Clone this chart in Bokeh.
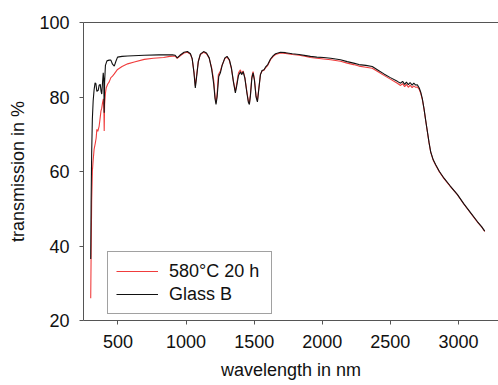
from bokeh.plotting import figure
from bokeh.models import LinearAxis, FixedTicker, Legend, LegendItem, Range1d
from bokeh.embed import file_html
from bokeh.resources import INLINE

# ---- data: Glass B (black) ----
wl_glass = [300, 303, 307, 312, 318, 325, 332, 338, 345, 355, 362, 370, 376, 381, 387, 392, 396, 399, 402, 408,
            419, 435, 448, 460, 473, 485, 497, 530, 571, 693, 800, 900, 920, 935, 955, 985, 1010, 1032, 1045, 1058,
            1068, 1078, 1090, 1105, 1129, 1150, 1170, 1188, 1203, 1213, 1220, 1228, 1240, 1252, 1265, 1285, 1301, 1318, 1333, 1348,
            1362, 1372, 1385, 1399, 1408, 1419, 1432, 1447, 1458, 1465, 1473, 1483, 1492, 1502, 1514, 1524, 1534, 1546, 1558, 1572,
            1583, 1600, 1620, 1640, 1657, 1693, 1730, 1780, 1830, 1880, 1913, 1960, 2010, 2062, 2134, 2183, 2230, 2269, 2320, 2367,
            2410, 2453, 2500, 2551, 2575, 2590, 2605, 2618, 2632, 2645, 2660, 2672, 2686, 2698, 2712, 2723, 2735, 2747, 2760, 2772,
            2784, 2796, 2814, 2833, 2860, 2894, 2940, 2993, 3040, 3090, 3140, 3170, 3193]
t_glass = [36.5, 52.0, 65.0, 74.0, 79.0, 82.0, 83.8, 83.6, 81.5, 81.8, 83.2, 83.4, 81.5, 80.8, 84.0, 86.5, 84.5, 75.8, 84.0, 88.5,
           89.7, 89.9, 89.9, 88.8, 88.3, 89.6, 90.7, 90.9, 91.0, 91.2, 91.3, 91.3, 91.2, 90.5, 91.2, 92.0, 92.2, 91.6, 90.3, 86.5,
           82.4, 85.5, 89.5, 91.5, 92.2, 91.8, 90.5, 87.5, 83.5, 79.5, 78.0, 80.0, 85.5, 86.5, 88.5, 90.5, 90.9, 90.0, 87.8, 84.0,
           81.1, 83.0, 85.8, 86.8, 86.0, 86.8, 85.0, 81.0, 78.5, 78.0, 80.5, 85.0, 86.5, 84.5, 80.0, 78.7, 82.0, 86.0, 87.1, 87.3,
           88.0, 88.7, 90.2, 91.1, 91.6, 92.0, 91.9, 91.6, 91.4, 91.1, 90.9, 90.7, 90.6, 90.4, 90.0, 89.5, 89.1, 88.7, 88.5, 88.2,
           87.2, 86.2, 85.2, 84.2, 83.7, 84.2, 83.4, 84.0, 83.3, 83.9, 83.2, 83.7, 83.2, 83.3, 82.4, 81.3, 79.5, 76.9, 73.6, 70.7,
           67.8, 65.3, 63.2, 61.8, 60.0, 58.2, 56.1, 53.8, 51.3, 48.9, 46.5, 45.2, 44.0]

# ---- data: 580°C 20 h (red) ----
wl_heat = [300, 303, 307, 312, 318, 325, 333, 340, 345, 352, 362, 368, 375, 381, 387, 393, 397, 399, 402, 408,
           414, 425, 435, 448, 460, 473, 497, 530, 571, 620, 693, 760, 835, 880, 920, 935, 955, 985, 1010, 1032,
           1045, 1058, 1068, 1078, 1090, 1105, 1129, 1150, 1170, 1188, 1203, 1213, 1220, 1228, 1237, 1252, 1265, 1285, 1301, 1318,
           1333, 1348, 1362, 1372, 1385, 1399, 1408, 1419, 1432, 1447, 1458, 1465, 1473, 1483, 1492, 1502, 1514, 1524, 1534, 1546,
           1558, 1572, 1583, 1600, 1620, 1640, 1657, 1693, 1730, 1780, 1830, 1880, 1913, 1960, 2010, 2062, 2134, 2183, 2230, 2269,
           2320, 2367, 2410, 2453, 2500, 2551, 2575, 2590, 2605, 2618, 2632, 2645, 2660, 2672, 2686, 2698, 2712, 2723, 2735, 2747,
           2760, 2772, 2784, 2796, 2814, 2833, 2860, 2894, 2940, 2993, 3040, 3090, 3140, 3170, 3193]
t_heat = [26.0, 38.0, 52.0, 60.0, 63.0, 66.0, 67.5, 69.0, 71.3, 70.8, 72.2, 74.0, 76.2, 77.0, 78.5, 79.5, 76.0, 70.9, 78.0, 81.0,
          82.5, 83.5, 84.0, 85.2, 85.6, 86.2, 87.4, 88.2, 88.9, 89.4, 90.1, 90.4, 90.6, 90.9, 91.0, 90.4, 91.0, 91.8, 92.0, 91.5,
          90.2, 86.8, 83.0, 86.0, 89.6, 91.4, 92.0, 91.6, 90.4, 87.8, 84.5, 80.0, 78.5, 80.8, 86.0, 87.0, 88.6, 90.3, 90.7, 89.8,
          87.6, 84.2, 81.5, 83.5, 86.5, 87.3, 86.3, 87.0, 85.2, 81.3, 78.8, 78.3, 80.8, 85.5, 86.8, 84.8, 80.3, 79.0, 82.3, 86.0,
          87.0, 87.2, 87.8, 88.5, 90.0, 90.9, 91.4, 91.8, 91.7, 91.4, 91.2, 90.9, 90.6, 90.4, 90.2, 90.0, 89.6, 89.1, 88.7, 88.3,
          88.0, 87.7, 86.8, 85.8, 84.8, 83.7, 83.1, 83.6, 82.8, 83.4, 82.6, 83.2, 82.5, 83.0, 82.6, 82.7, 82.0, 81.0, 79.3, 76.8,
          73.5, 70.6, 67.7, 65.2, 63.1, 61.7, 59.9, 58.1, 56.0, 53.7, 51.2, 48.8, 46.4, 45.1, 43.9]

series_labels = ["580°C 20 h", "Glass B"]
x_ticks = [500, 1000, 1500, 2000, 2500, 3000]
y_ticks = [20, 40, 60, 80, 100]

assert len(wl_glass) == len(t_glass)
assert len(wl_heat) == len(t_heat)

FONT = "Liberation Sans"
AX = "#555555"

p = figure(width=498, height=385, output_backend="svg", toolbar_location=None,
           x_range=Range1d(247, 3294), y_range=Range1d(20, 100),
           min_border_left=83, min_border_right=0, min_border_top=22, min_border_bottom=65)
p.outline_line_color = None
p.xgrid.visible = False
p.ygrid.visible = False

r_heat = p.line(wl_heat, t_heat, line_color="#f03c3c", line_width=1.1)
r_glass = p.line(wl_glass, t_glass, line_color="#111111", line_width=1.1)

for ax in (p.xaxis[0], p.yaxis[0]):
    ax.axis_line_color = AX
    ax.axis_line_width = 1
    ax.major_tick_line_color = AX
    ax.major_tick_in = 0
    ax.major_tick_out = 4
    ax.minor_tick_line_color = None
    ax.major_label_text_font = FONT
    ax.major_label_text_font_size = "18px"
    ax.major_label_text_color = "#111111"
    ax.axis_label_text_font = FONT
    ax.axis_label_text_font_size = "18px"
    ax.axis_label_text_font_style = "normal"
    ax.axis_label_text_color = "#111111"
    ax.major_label_standoff = 10

p.xaxis[0].ticker = FixedTicker(ticks=x_ticks)
p.yaxis[0].ticker = FixedTicker(ticks=y_ticks)
p.xaxis[0].axis_label = "wavelength in nm"
p.yaxis[0].axis_label = "transmission in %"
p.xaxis[0].axis_label_standoff = 9
p.yaxis[0].axis_label_standoff = 8

top = LinearAxis(ticker=FixedTicker(ticks=[]), axis_line_color=AX, major_tick_line_color=None,
                 minor_tick_line_color=None, major_label_standoff=0)
p.add_layout(top, "above")

legend = Legend(items=[LegendItem(label=series_labels[0], renderers=[r_heat]),
                       LegendItem(label=series_labels[1], renderers=[r_glass])],
                location=(24, 6), orientation="vertical",
                label_text_font=FONT, label_text_font_size="18px", label_text_color="#111111",
                glyph_width=42, glyph_height=22, label_height=22, label_width=94,
                label_standoff=11, padding=8, spacing=1, margin=0,
                border_line_color="#444444", border_line_width=1,
                background_fill_color="white", background_fill_alpha=1)
p.add_layout(legend, "center")

open("out.html", "w").write(file_html(p, INLINE))
